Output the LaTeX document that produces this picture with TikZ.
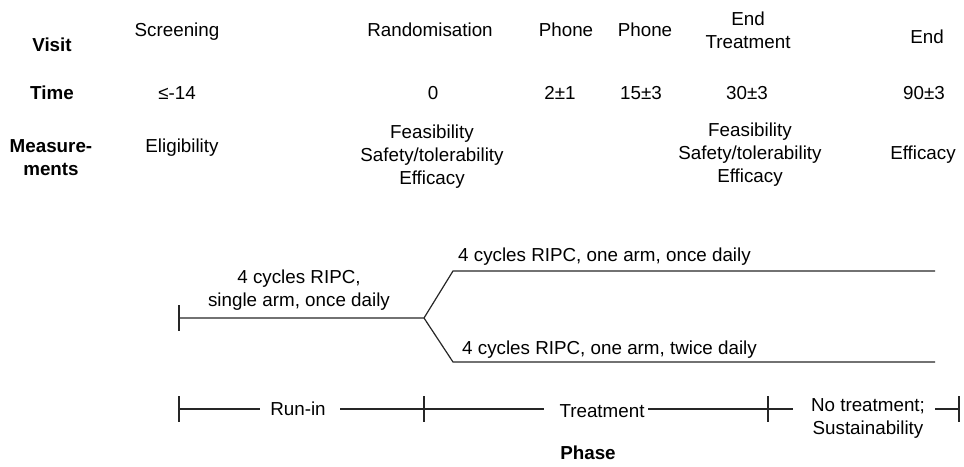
\documentclass[tikz,border=0pt]{standalone}
\usepackage{fontspec}
\setmainfont{Liberation Sans}
\begin{document}
\begin{tikzpicture}[x=1pt,y=1pt,
  txt/.style={font=\fontsize{18.8}{23}\selectfont, inner sep=0pt, text height=13.5pt, text depth=4pt},
  mtxt/.style={font=\fontsize{18.8}{23}\selectfont, inner sep=0pt, align=center},
  hdr/.style={txt, font=\fontsize{18.8}{23}\selectfont\bfseries},
  mhdr/.style={mtxt, font=\fontsize{18.8}{23}\selectfont\bfseries},
  ln/.style={line width=1.2pt, draw=black!85}]
\useasboundingbox (0,0) rectangle (964,-466);
% row headers
\node[hdr] (visit) at (52,-47) {Visit};
\node[hdr] (time) at (52,-95) {Time};
\node[mhdr] (meas) at (51,-158) {Measure-\\ments};
% visits
\node[txt] (scr) at (177,-32) {Screening};
\node[txt] (rand) at (430,-32) {Randomisation};
\node[txt] (ph1v) at (566,-32) {Phone};
\node[txt] (ph2v) at (645,-32) {Phone};
\node[mtxt] (endtr) at (748,-30) {End\\Treatment};
\node[txt] (endv) at (927,-39) {End};
% times
\node[txt] (t0) at (177,-95) {≤-14};
\node[txt] (t1) at (433,-95) {0};
\node[txt] (t2) at (560,-95) {2±1};
\node[txt] (t3) at (641,-95) {15±3};
\node[txt] (t4) at (747,-95) {30±3};
\node[txt] (t5) at (924,-95) {90±3};
% measurements
\node[txt] (m0) at (182,-148) {Eligibility};
\node[mtxt] (m1) at (432,-157) {Feasibility\\Safety/tolerability\\Efficacy};
\node[mtxt] (m2) at (750,-155) {Feasibility\\Safety/tolerability\\Efficacy};
\node[txt] (m3) at (923,-155) {Efficacy};
% arms
\coordinate (start) at (179,-318);
\coordinate (branch) at (424,-318);
\coordinate (upS) at (453,-271);
\coordinate (upE) at (935,-271);
\coordinate (loS) at (453,-362);
\coordinate (loE) at (935,-362);
\draw[ln] ([yshift=13]start) -- ([yshift=-13]start);
\draw[ln] (start) -- (branch) -- (upS) -- (upE);
\draw[ln] (branch) -- (loS) -- (loE);
\node[mtxt] (runlbl) at (299,-290) {4 cycles RIPC,\\single arm, once daily};
\node[txt, anchor=west] (uplbl) at (458,-257) {4 cycles RIPC, one arm, once daily};
\node[txt, anchor=west] (lolbl) at (462,-350) {4 cycles RIPC, one arm, twice daily};
% phases
\coordinate (p0) at (179,-409);
\coordinate (p1) at (424,-409);
\coordinate (p2) at (768,-409);
\coordinate (p3) at (959,-409);
\foreach \p in {p0,p1,p2,p3}
  \draw[ln] ([yshift=13]\p) -- ([yshift=-13]\p);
\coordinate (a1) at (260,-409);
\coordinate (a2) at (340,-409);
\coordinate (b1) at (544,-409);
\coordinate (b2) at (648,-409);
\coordinate (c1) at (793,-409);
\coordinate (c2) at (935,-409);
\node[txt] (runin) at (298,-411) {Run-in};
\node[txt] (treat) at (602,-413) {Treatment};
\node[mtxt] (notr) at (868,-418) {No treatment;\\Sustainability};
\node[hdr] (phase) at (588,-455) {Phase};
\draw[ln] (p0) -- (a1);
\draw[ln] (a2) -- (p1);
\draw[ln] (p1) -- (b1);
\draw[ln] (b2) -- (p2);
\draw[ln] (p2) -- (c1);
\draw[ln] (c2) -- (p3);
\end{tikzpicture}
\end{document}
